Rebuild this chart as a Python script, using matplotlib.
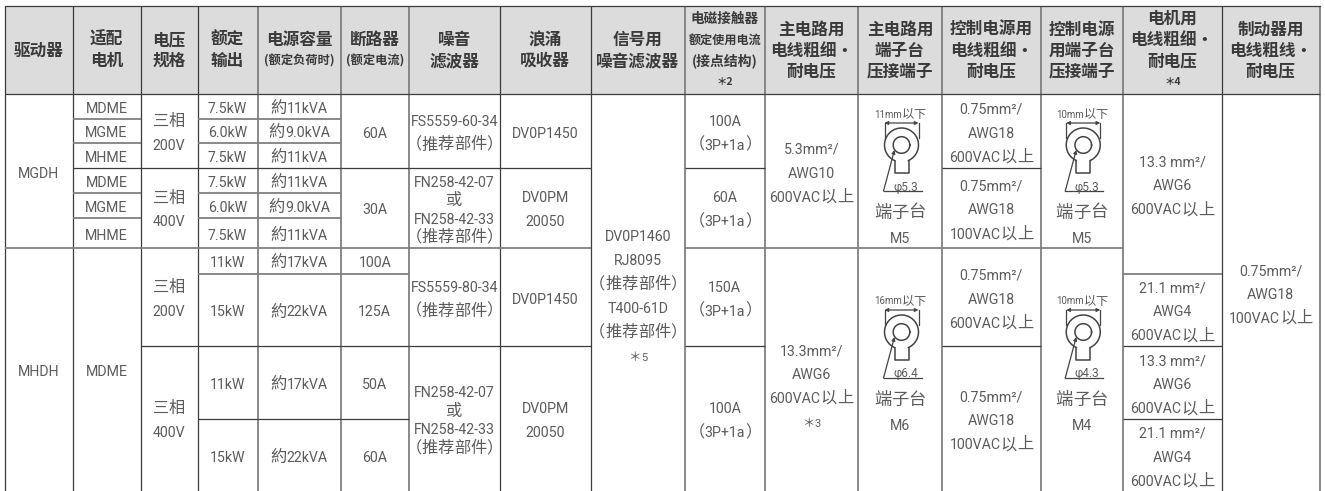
import re
import numpy as np
import matplotlib
matplotlib.use("Agg")
import matplotlib.pyplot as plt
from matplotlib.patches import Rectangle

# ---------- table content ----------
header_lines = [
    ["驱动器"], ["适配", "电机"], ["电压", "规格"], ["额定", "输出"],
    ["电源容量", "(额定负荷时)"], ["断路器", "(额定电流)"], ["噪音", "滤波器"],
    ["浪涌", "吸收器"], ["信号用", "噪音滤波器"],
    ["电磁接触器", "额定使用电流", "(接点结构)", "＊2"],
    ["主电路用", "电线粗细·", "耐电压"], ["主电路用", "端子台", "压接端子"],
    ["控制电源用", "电线粗细·", "耐电压"], ["控制电源", "用端子台", "压接端子"],
    ["电机用", "电线粗细·", "耐电压", "＊4"], ["制动器用", "电线粗线·", "耐电压"],
]
driver = ["MGDH", "MHDH"]
motor = ["MDME", "MGME", "MHME", "MDME", "MGME", "MHME", "MDME"]
voltage = ["三相\n200V", "三相\n400V", "三相\n200V", "三相\n400V"]
rated_output = ["7.5kW", "6.0kW", "7.5kW", "7.5kW", "6.0kW", "7.5kW", "11kW", "15kW", "11kW", "15kW"]
capacity = ["約11kVA", "約9.0kVA", "約11kVA", "約11kVA", "約9.0kVA", "約11kVA", "約17kVA", "約22kVA", "約17kVA", "約22kVA"]
breaker = ["60A", "30A", "100A", "125A", "50A", "60A"]
fn_filter = "FN258-42-07\n或\nFN258-42-33\n（推荐部件）"
noise_filter = ["FS5559-60-34\n（推荐部件）", fn_filter, "FS5559-80-34\n（推荐部件）", fn_filter]
surge = ["DV0P1450", "DV0PM\n20050", "DV0P1450", "DV0PM\n20050"]
signal_filter = ["DV0P1460\nRJ8095\n（推荐部件）\nT400-61D\n（推荐部件）\n＊5"]
contactor = ["100A\n（3P+1a）", "60A\n（3P+1a）", "150A\n（3P+1a）", "100A\n（3P+1a）"]
main_wire = ["5.3mm²/\nAWG10\n600VAC以上", "13.3mm²/\nAWG6\n600VAC以上\n＊3"]
ctrl_wire = ["0.75mm²/\nAWG18\n600VAC以上", "0.75mm²/\nAWG18\n100VAC以上",
             "0.75mm²/\nAWG18\n600VAC以上", "0.75mm²/\nAWG18\n100VAC以上"]
motor_wire = ["13.3 mm²/\nAWG6\n600VAC以上", "21.1 mm²/\nAWG4\n600VAC以上",
              "13.3 mm²/\nAWG6\n600VAC以上", "21.1 mm²/\nAWG4\n600VAC以上"]
brake_wire = ["0.75mm²/\nAWG18\n100VAC以上"]
main_lug = [("11mm以下", "φ5.3", "端子台", "M5"), ("16mm以下", "φ6.4", "端子台", "M6")]
ctrl_lug = [("10mm以下", "φ5.3", "端子台", "M5"), ("10mm以下", "φ4.3", "端子台", "M4")]

columns = [driver, motor, voltage, rated_output, capacity, breaker, noise_filter, surge,
           signal_filter, contactor, main_wire, None, ctrl_wire, None, motor_wire, brake_wire]

# ---------- layout (pixels) ----------
W, H = 1325, 491
col_x = [5, 72.5, 140.5, 197.5, 257.5, 341, 408.5, 500, 590.5, 685, 764.5, 858, 942, 1040.5, 1123, 1221.5, 1320]
row_y = [94, 118.5, 143, 168, 192.5, 218, 248, 273.7, 346.3, 419.3, 491]
HEAD_TOP = 5.5
b_all = [0, 1, 2, 3, 4, 5, 6, 7, 8, 9, 10]
b_six = [0, 1, 2, 3, 4, 5, 6, 10]
b_quad = [0, 3, 6, 8, 10]
b_two = [0, 6, 10]
col_breaks = [b_two, b_six, b_quad, b_all, b_all, [0, 3, 6, 7, 8, 9, 10], b_quad, b_quad,
              [0, 10], b_quad, b_two, b_two, b_quad, b_two, [0, 7, 8, 9, 10], [0, 10]]
dark_rows = {0, 3, 8, 9}
dark_cols = {0, 1, 2, 3, 7, 8, 15}
cell_shift = {(10, 1): 15, (8, 0): 2}
cell_step = {fn_filter: 18.6}
LINE_STEP = 24
DARK, GRAY, TXT, HTXT = "#3c3c3c", "#808080", "#5c5c5c", "#3a3a3a"
CJK = ["Noto Sans CJK SC", "DejaVu Sans"]
LAT = ["Roboto", "Liberation Sans", "DejaVu Sans"]
LAT_PT = 10.2

fig = plt.figure(figsize=(W / 100, H / 100), dpi=100, facecolor="white")
ax = fig.add_axes([0, 0, 1, 1])
ax.set_xlim(0, W)
ax.set_ylim(H, 0)
ax.axis("off")
renderer = fig.canvas.get_renderer()


def is_cjk(c):
    return ord(c) >= 0x2E80


def rich(cx, cy, s, cjk_pt=11.7, lat_pt=LAT_PT, color=TXT):
    """Centre a mixed line; CJK and Latin runs use separate fonts."""
    runs = re.findall(r"[\u2e80-\uffff]+|[^\u2e80-\uffff]+", s)
    items, total = [], 0.0
    for r in runs:
        if is_cjk(r[0]):
            em = cjk_pt * 100 / 72
            for ch in r:
                off, adv = 0.0, em
                if ch == "（":
                    off, adv = -0.4 * em, 0.6 * em
                elif ch == "）":
                    adv = 0.6 * em
                items.append((ch, CJK, cjk_pt, total + off))
                total += adv
        else:
            t = ax.text(0, 0, r, fontsize=lat_pt, family=LAT)
            w = t.get_window_extent(renderer).width
            t.remove()
            items.append((r, LAT, lat_pt, total))
            total += w
    for txt, fam, pt, x in items:
        ax.text(cx - total / 2 + x, cy + 5.5, txt, family=fam, fontsize=pt, color=color,
                ha="left", va="baseline")


def lug(cx, top, labels):
    size, hole, block, screw = labels
    x0 = cx + 1.5
    lc = "#444444"
    rich(x0 - 1.5, top, size, cjk_pt=8.8, lat_pt=7)
    arr = top + 11
    ax.annotate("", xy=(x0 - 17, arr), xytext=(x0 + 17, arr),
                arrowprops=dict(arrowstyle="<|-|>", color=lc, lw=0.9, mutation_scale=5, shrinkA=0, shrinkB=0))
    cy = top + 33
    for sx in (-17, 17):
        ax.plot([x0 + sx, x0 + sx], [arr, cy - 7], color=lc, lw=0.9)
    a = np.radians(np.linspace(114, 426, 80))
    ax.plot(x0 + 17 * np.cos(a), cy + 17 * np.sin(a), color=lc, lw=1.1)
    a = np.radians(np.linspace(0, 360, 60))
    ax.plot(x0 + 8.3 * np.cos(a), cy + 8.3 * np.sin(a), color=lc, lw=1.1)
    stem_y = cy + 28
    ax.plot([x0 - 7, x0 - 7, x0 + 7, x0 + 7], [cy + 15.5, stem_y, stem_y, cy + 15.5], color=lc, lw=1.1)
    under = top + 79
    ax.plot([x0 - 18, x0 + 20], [under, under], color=lc, lw=0.9)
    ax.annotate("", xy=(x0 - 7, cy + 5), xytext=(x0 - 18, under),
                arrowprops=dict(arrowstyle="-|>", color=lc, lw=0.9, mutation_scale=5, shrinkA=0, shrinkB=0))
    rich(x0 + 4, top + 73, hole, cjk_pt=8.8, lat_pt=8.5)
    rich(cx, top + 100, block, cjk_pt=12.5)
    rich(cx, top + 125, screw)


# header band
ax.add_patch(Rectangle((col_x[0], HEAD_TOP), col_x[-1] - col_x[0], row_y[0] - HEAD_TOP,
                       facecolor="#dcdcdc", edgecolor="none", zorder=0))

# grid lines
for c, x in enumerate(col_x):
    dark = c in dark_cols
    ax.plot([x, x], [HEAD_TOP, H], color=DARK if dark else GRAY, lw=0.9 if dark else 1.3,
            solid_capstyle="butt", zorder=2)
ax.plot([col_x[0], col_x[-1]], [HEAD_TOP, HEAD_TOP], color=DARK, lw=0.9, zorder=2)
for c, breaks in enumerate(col_breaks):
    for b in breaks:
        if b == 10:
            continue
        dark = b in dark_rows
        ax.plot([col_x[c], col_x[c + 1]], [row_y[b], row_y[b]], color=DARK if dark else GRAY,
                lw=0.9 if dark else 1.3, solid_capstyle="butt", zorder=2)

# header text
for c, lines in enumerate(header_lines):
    cx = (col_x[c] + col_x[c + 1]) / 2
    n = len(lines)
    for i, s in enumerate(lines):
        y = 50.5 + (i - (n - 1) / 2) * 21
        pt = 12
        if s.startswith("("):
            pt = 8.8 if c != 9 else 10
        if s == "额定使用电流":
            pt = 8.7
        if s == "电磁接触器":
            pt = 9.8
        if s.startswith("＊"):
            pt = 7.5
        ax.text(cx, y, s, family=CJK, fontsize=pt, fontweight="bold", color=HTXT,
                ha="center", va="center")

# body text
for c, vals in enumerate(columns):
    cx = (col_x[c] + col_x[c + 1]) / 2
    if vals is None:
        continue
    breaks = col_breaks[c]
    for k, s in enumerate(vals):
        top, bot = row_y[breaks[k]], row_y[breaks[k + 1]]
        mid = (top + bot) / 2 + 1 + cell_shift.get((c, k), 0)
        lines = s.split("\n")
        step = cell_step.get(s, LINE_STEP)
        for i, ln in enumerate(lines):
            y = mid + (i - (len(lines) - 1) / 2) * step
            if ln.startswith("＊"):
                rich(cx, y, ln, cjk_pt=9, lat_pt=8)
            else:
                rich(cx, y, ln)

# crimp-terminal sketches
lug_tops = [112, 299]
for c, data in ((11, main_lug), (13, ctrl_lug)):
    cx = (col_x[c] + col_x[c + 1]) / 2
    for top, labels in zip(lug_tops, data):
        lug(cx, top, labels)

fig.savefig("out.png", dpi=100, facecolor="white")
